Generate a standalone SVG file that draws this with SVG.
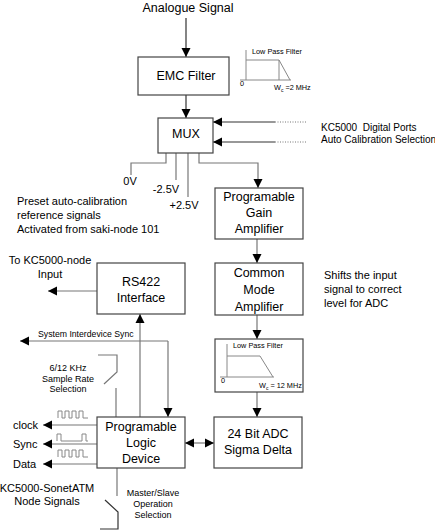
<svg xmlns="http://www.w3.org/2000/svg" width="435" height="530" viewBox="0 0 435 530">
<defs>
<marker id="ah" viewBox="0 0 10 10" refX="10" refY="5" markerWidth="9" markerHeight="11" markerUnits="userSpaceOnUse" orient="auto-start-reverse">
<path d="M0,0 L10,5 L0,10 z" fill="#000"/>
</marker>
<style>
text{font-family:"Liberation Sans",Arial,sans-serif;fill:#000}
.box{fill:#fff;stroke:#444;stroke-width:1.2}
.bt{font-size:12.5px;text-anchor:middle}
.ln{fill:none;stroke:#777;stroke-width:1.2}
.dk{fill:none;stroke:#333;stroke-width:1.2}
.dot{fill:none;stroke:#777;stroke-width:1;stroke-dasharray:1,1.5}
.gr{fill:none;stroke:#888;stroke-width:1}
.s11{font-size:11px}
.s10{font-size:10px}
.s9{font-size:9px;text-anchor:middle}
.s7{font-size:7.3px}
</style>
</defs>

<text x="188" y="12" font-size="12.5" text-anchor="middle">Analogue Signal</text>

<g id="connectors">
<path class="dk" d="M186,18 V57" marker-end="url(#ah)"/>
<path class="dk" d="M186,95 V118" marker-end="url(#ah)"/>
<path class="dk" d="M275,122 H213" marker-end="url(#ah)"/>
<path class="dot" d="M306,122 H275"/>
<path class="dk" d="M275,142 H213" marker-end="url(#ah)"/>
<path class="dot" d="M306,142 H275"/>
<path class="ln" d="M166,153 V163 H131 V175"/>
<path class="ln" d="M176,153 V180"/>
<path class="ln" d="M188,153 V197"/>
<path class="ln" d="M199,153 V163 H258 V188" marker-end="url(#ah)"/>
<path class="ln" d="M257,239 V263" marker-end="url(#ah)"/>
<path class="ln" d="M257,315 V339" marker-end="url(#ah)"/>
<path class="ln" d="M257,392 V417" marker-end="url(#ah)"/>
<path class="ln" d="M185,443 H214" marker-start="url(#ah)" marker-end="url(#ah)"/>
<path class="ln" d="M140,417 V314" marker-end="url(#ah)"/>
<path class="ln" d="M97,291 H48" marker-end="url(#ah)"/>
<path class="ln" d="M168,341 V417" marker-end="url(#ah)"/>
<path class="ln" d="M168,341 H20" marker-end="url(#ah)"/>
<path class="ln" d="M97,425 H43" marker-end="url(#ah)"/>
<path class="ln" d="M97,444 H43" marker-end="url(#ah)"/>
<path class="ln" d="M97,464 H43" marker-end="url(#ah)"/>
<path class="ln" d="M98,355 H117 V372 L104,384"/>
<path class="ln" d="M116,388 V417"/>
<path class="ln" d="M117,468 V496"/>
<path class="dk" d="M105,500 L118,512 V529 H100"/>
</g>

<g id="waveforms">
<path class="gr" d="M58,418 V411 H62 V418 H65 V411 H69 V418 H72 V411 H76 V418 H79 V411 H83 V418 H88"/>
<path class="gr" d="M57,441 V434 H61 V441 H82 V434 H86 V441 H88"/>
<path class="gr" d="M58,457 V450 H62 V457 H65 V450 H69 V457 H72 V450 H76 V457 H79 V450 H83 V457 H88"/>
</g>

<g id="lpf1">
<path class="gr" d="M246,50 V80 M240,80 H291 M246,60 H279 L290,80 M279,60 V80"/>
<text x="252" y="54" class="s7">Low Pass Filter</text>
<text x="240" y="86" class="s7">0</text>
<text x="274" y="90" class="s7">W<tspan font-size="5" dy="1.5">c</tspan><tspan dy="-1.5"> =2 MHz</tspan></text>
</g>

<g id="emc">
<rect class="box" x="138" y="57" width="91" height="38"/>
<text x="186" y="80" class="bt">EMC Filter</text>
</g>

<g id="mux">
<rect class="box" x="158" y="118" width="55" height="35"/>
<text x="186" y="138" class="bt">MUX</text>
</g>

<text x="321" y="131" class="s10" xml:space="preserve">KC5000  Digital Ports</text>
<text x="321" y="143" class="s10">Auto Calibration Selection</text>

<text x="130" y="185" class="s11" text-anchor="middle">0V</text>
<text x="166" y="193" class="s11" text-anchor="middle">-2.5V</text>
<text x="184" y="209" class="s11" text-anchor="middle">+2.5V</text>

<text x="17" y="205" class="s11">Preset auto-calibration</text>
<text x="17" y="219" class="s11">reference signals</text>
<text x="17" y="233" class="s11">Activated from saki-node 101</text>

<g id="pga">
<rect class="box" x="215" y="188" width="88" height="51"/>
<text x="259" y="201" class="bt">Programable</text>
<text x="259" y="217" class="bt">Gain</text>
<text x="259" y="233" class="bt">Amplifier</text>
</g>

<g id="cma">
<rect class="box" x="215" y="263" width="88" height="52"/>
<text x="259" y="277" class="bt" font-size="13.3">Common</text>
<text x="259" y="294" class="bt" font-size="13.3">Mode</text>
<text x="259" y="311" class="bt" font-size="13.3">Amplifier</text>
</g>

<text x="324" y="279" class="s11">Shifts the input</text>
<text x="324" y="293" class="s11">signal to correct</text>
<text x="324" y="307" class="s11">level for ADC</text>

<g id="lpf2">
<rect class="box" x="215" y="339" width="88" height="53"/>
<path class="gr" d="M227,344 V377 M220,377 H274 M227,356 H260 L273,377"/>
<text x="233" y="348" class="s7">Low Pass Filter</text>
<text x="221" y="383" class="s7">0</text>
<text x="259" y="388" class="s7">W<tspan font-size="5" dy="1.5">c</tspan><tspan dy="-1.5"> = 12 MHz</tspan></text>
</g>

<g id="adc">
<rect class="box" x="214" y="417" width="88" height="51"/>
<text x="258" y="438" class="bt" font-size="13">24 Bit ADC</text>
<text x="258" y="454" class="bt" font-size="13">Sigma Delta</text>
</g>

<g id="rs422">
<rect class="box" x="97" y="263" width="88" height="51"/>
<text x="141" y="286" class="bt" font-size="13">RS422</text>
<text x="141" y="302" class="bt" font-size="13">Interface</text>
</g>

<text x="50" y="264" class="s11" text-anchor="middle">To KC5000-node</text>
<text x="50" y="278" class="s11" text-anchor="middle">Input</text>

<text x="38" y="337" font-size="8.7">System Interdevice Sync</text>

<text x="68" y="371" class="s9">6/12 KHz</text>
<text x="68" y="382" class="s9">Sample Rate</text>
<text x="68" y="392" class="s9">Selection</text>

<g id="pld">
<rect class="box" x="97" y="417" width="88" height="51"/>
<text x="141" y="431" class="bt" font-size="13">Programable</text>
<text x="141" y="447" class="bt" font-size="13">Logic</text>
<text x="141" y="463" class="bt" font-size="13">Device</text>
</g>

<text x="13" y="429" class="s11">clock</text>
<text x="13" y="448" class="s11">Sync</text>
<text x="13" y="468" class="s11">Data</text>

<text x="47" y="492" class="s11" text-anchor="middle">KC5000-SonetATM</text>
<text x="47" y="505" class="s11" text-anchor="middle">Node Signals</text>

<text x="153" y="496" class="s9">Master/Slave</text>
<text x="153" y="507" class="s9">Operation</text>
<text x="153" y="518" class="s9">Selection</text>
</svg>
